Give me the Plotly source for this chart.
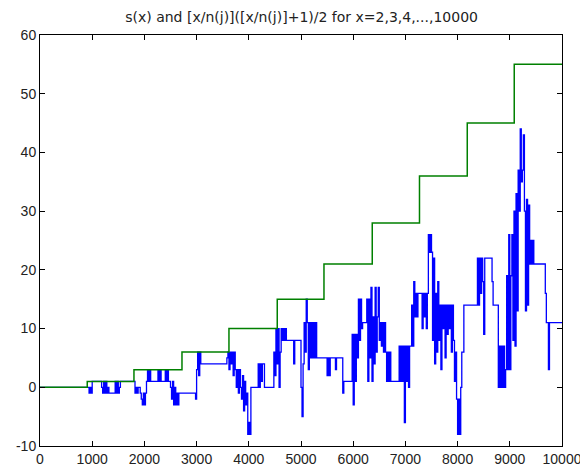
import plotly.graph_objects as go

# ---- data ----
# s(x) sampled every 20 units of x (x = 0, 20, ..., 10000), values read from the picture
step = 20
s_0000 = [0]*47 + [-1, 0, -1]
s_1000 = [1, 1, 1, 1, 1, 1, 1, 1, 1,
          0, -1, 1, -1, 1, -1, 0, -1, -1, -1, -1, -1, -1, 1, -1, 1, -1, 0, 1,
          1, 1, 1, 1, 1, 1, 1, 1, 1, 1, 1, 1,
          1, -1, 0, -1, 0, 0, -1, -2, -3, -1]
s_2000 = [-3, -1, 1, 3, 1, 3, 1, 1, 1, 1,
          1, 1, 1, 3, 1, 3, 1, 1, 1, 1,
          3, 1, 3, 1, 1, 0, -2, 1, -3, 0,
          -3, -1, -3, -1, -1, -1, -1, -1, -1, -1,
          -1, -1, -1, -1, -1, -1, -1, -1, -1, -2]
s_3000 = [3, 6, 2, 6, 4] + [4]*24 + [5, 6, 3, 6, 4, 6, 2, 6, 3, 0,
                                   3, -1, 3, 0, -2, 2, -4, 1, -3, -1, -8]
s_4000 = [-6, -8, 0, 0, 0, 0, 0, 0, 0, 4,
          0, 4, 1, 4, 4, 0, 0, 0, 0, 0,
          0, 0, 0, 0, 6, 2, 10, 4, 10, 0,
          6, 10, 8, 10, 8, 10, 8, 8, 8, 8,
          8, 8, 8, 4, 8, 8, 8, 8, 8, 8]
s_5000 = ([0, -5, 4, 11, 6, 15, 11, 3, 11, 5, 11, 5, 11, 5, 11, 5] + [5]*9 +
          [2, 5, 2, 5] + [5]*4 + [3] + [5]*6 + [-1] + [1]*8 + [9])
s_6000 = ([-3, 9, 1, 9, 5, 15, 8, 15, 10, 11,
           11, 11, 11, 15, 1, 15, 5, 17, 1, 12,
           4, 17, 6, 12, 17, 8, 11, 7, 11, 6,
           11, 6, 1, 6, 1, 6] + [1]*8 + [7, 1, 7, 1, 7, -6])
s_7000 = [7, 1, 7, 0, 7, 7, 14, 7, 18, 12,
          16, 12, 16, 16, 16, 16, 10, 16, 12, 16,
          10, 16, 26, 23, 26, 23, 8, 22, 4, 16,
          6, 18, 8, 14, 3, 14, 10, 14, 5, 14,
          9, 14, 10, 14, 6, 14, 8, 1, 6, -2]
s_8000 = ([-8, -2, -8, 0, 6, 6, 14] + [14]*12 +
          [22, 14, 22, 16, 22, 18, 9, 22, 22, 22, 22, 22, 22, 22, 18, 14] +
          [14]*4 + [0, 7, 0, 7, 0, 7, 0, 3, 19, 3, 26])
s_9000 = ([3, 19, 26, 8, 30, 7, 33, 13, 37, 30,
           44, 35, 37, 43, 30, 13, 32, 14, 31, 21,
           25, 21, 25, 21, 21] + [21]*9 + [16, 11, 11, 3, 11] + [11]*11 + [11])

s_vals = s_0000 + s_1000 + s_2000 + s_3000 + s_4000 + s_5000 + s_6000 + s_7000 + s_8000 + s_9000
s_x = [i * step for i in range(len(s_vals))]

# [x/n]([x/n]+1)/2 step curve
g_x = [0, 905, 1800, 2720, 3620, 4545, 5440, 6365, 7270, 8185, 9085, 10000]
g_y = [0, 1, 3, 6, 10, 15, 21, 28, 36, 45, 55, 55]

x_ticks = [0, 1000, 2000, 3000, 4000, 5000, 6000, 7000, 8000, 9000, 10000]
y_ticks = [-10, 0, 10, 20, 30, 40, 50, 60]

title_text = "s(x) and [x/n(j)]([x/n(j)]+1)/2 for x=2,3,4,...,10000"

fig = go.Figure()
fig.add_trace(go.Scatter(x=s_x, y=s_vals, mode="lines", line=dict(color="#0000ff", width=1.3, shape="hv"),
                         showlegend=False, hoverinfo="skip"))
fig.add_trace(go.Scatter(x=g_x, y=g_y, mode="lines", line=dict(color="#008000", width=1.5, shape="hv"),
                         showlegend=False, hoverinfo="skip"))

axis_common = dict(showline=True, linecolor="black", linewidth=1, mirror="ticks", ticks="inside",
                   ticklen=5, tickcolor="black", showgrid=False, zeroline=False, automargin=False,
                   ticklabeloverflow="allow",
                   tickfont=dict(family="Liberation Sans, Arial", size=14, color="#222222"))
fig.update_layout(
    width=580, height=466,
    margin=dict(l=40, r=18, t=35, b=20),
    paper_bgcolor="white", plot_bgcolor="white",
    title=dict(text=title_text, x=0.52, xanchor="center", y=1 - 17/466, yanchor="middle", yref="container",
               font=dict(family="DejaVu Sans", size=14, color="#222222")),
    xaxis=dict(range=[0, 10000], tickmode="array", tickvals=x_ticks,
               ticktext=[str(v) for v in x_ticks], **axis_common),
    yaxis=dict(range=[-10, 60], tickmode="array", tickvals=y_ticks,
               ticktext=[str(v) for v in y_ticks], **axis_common),
)
fig.write_html("out.html")
